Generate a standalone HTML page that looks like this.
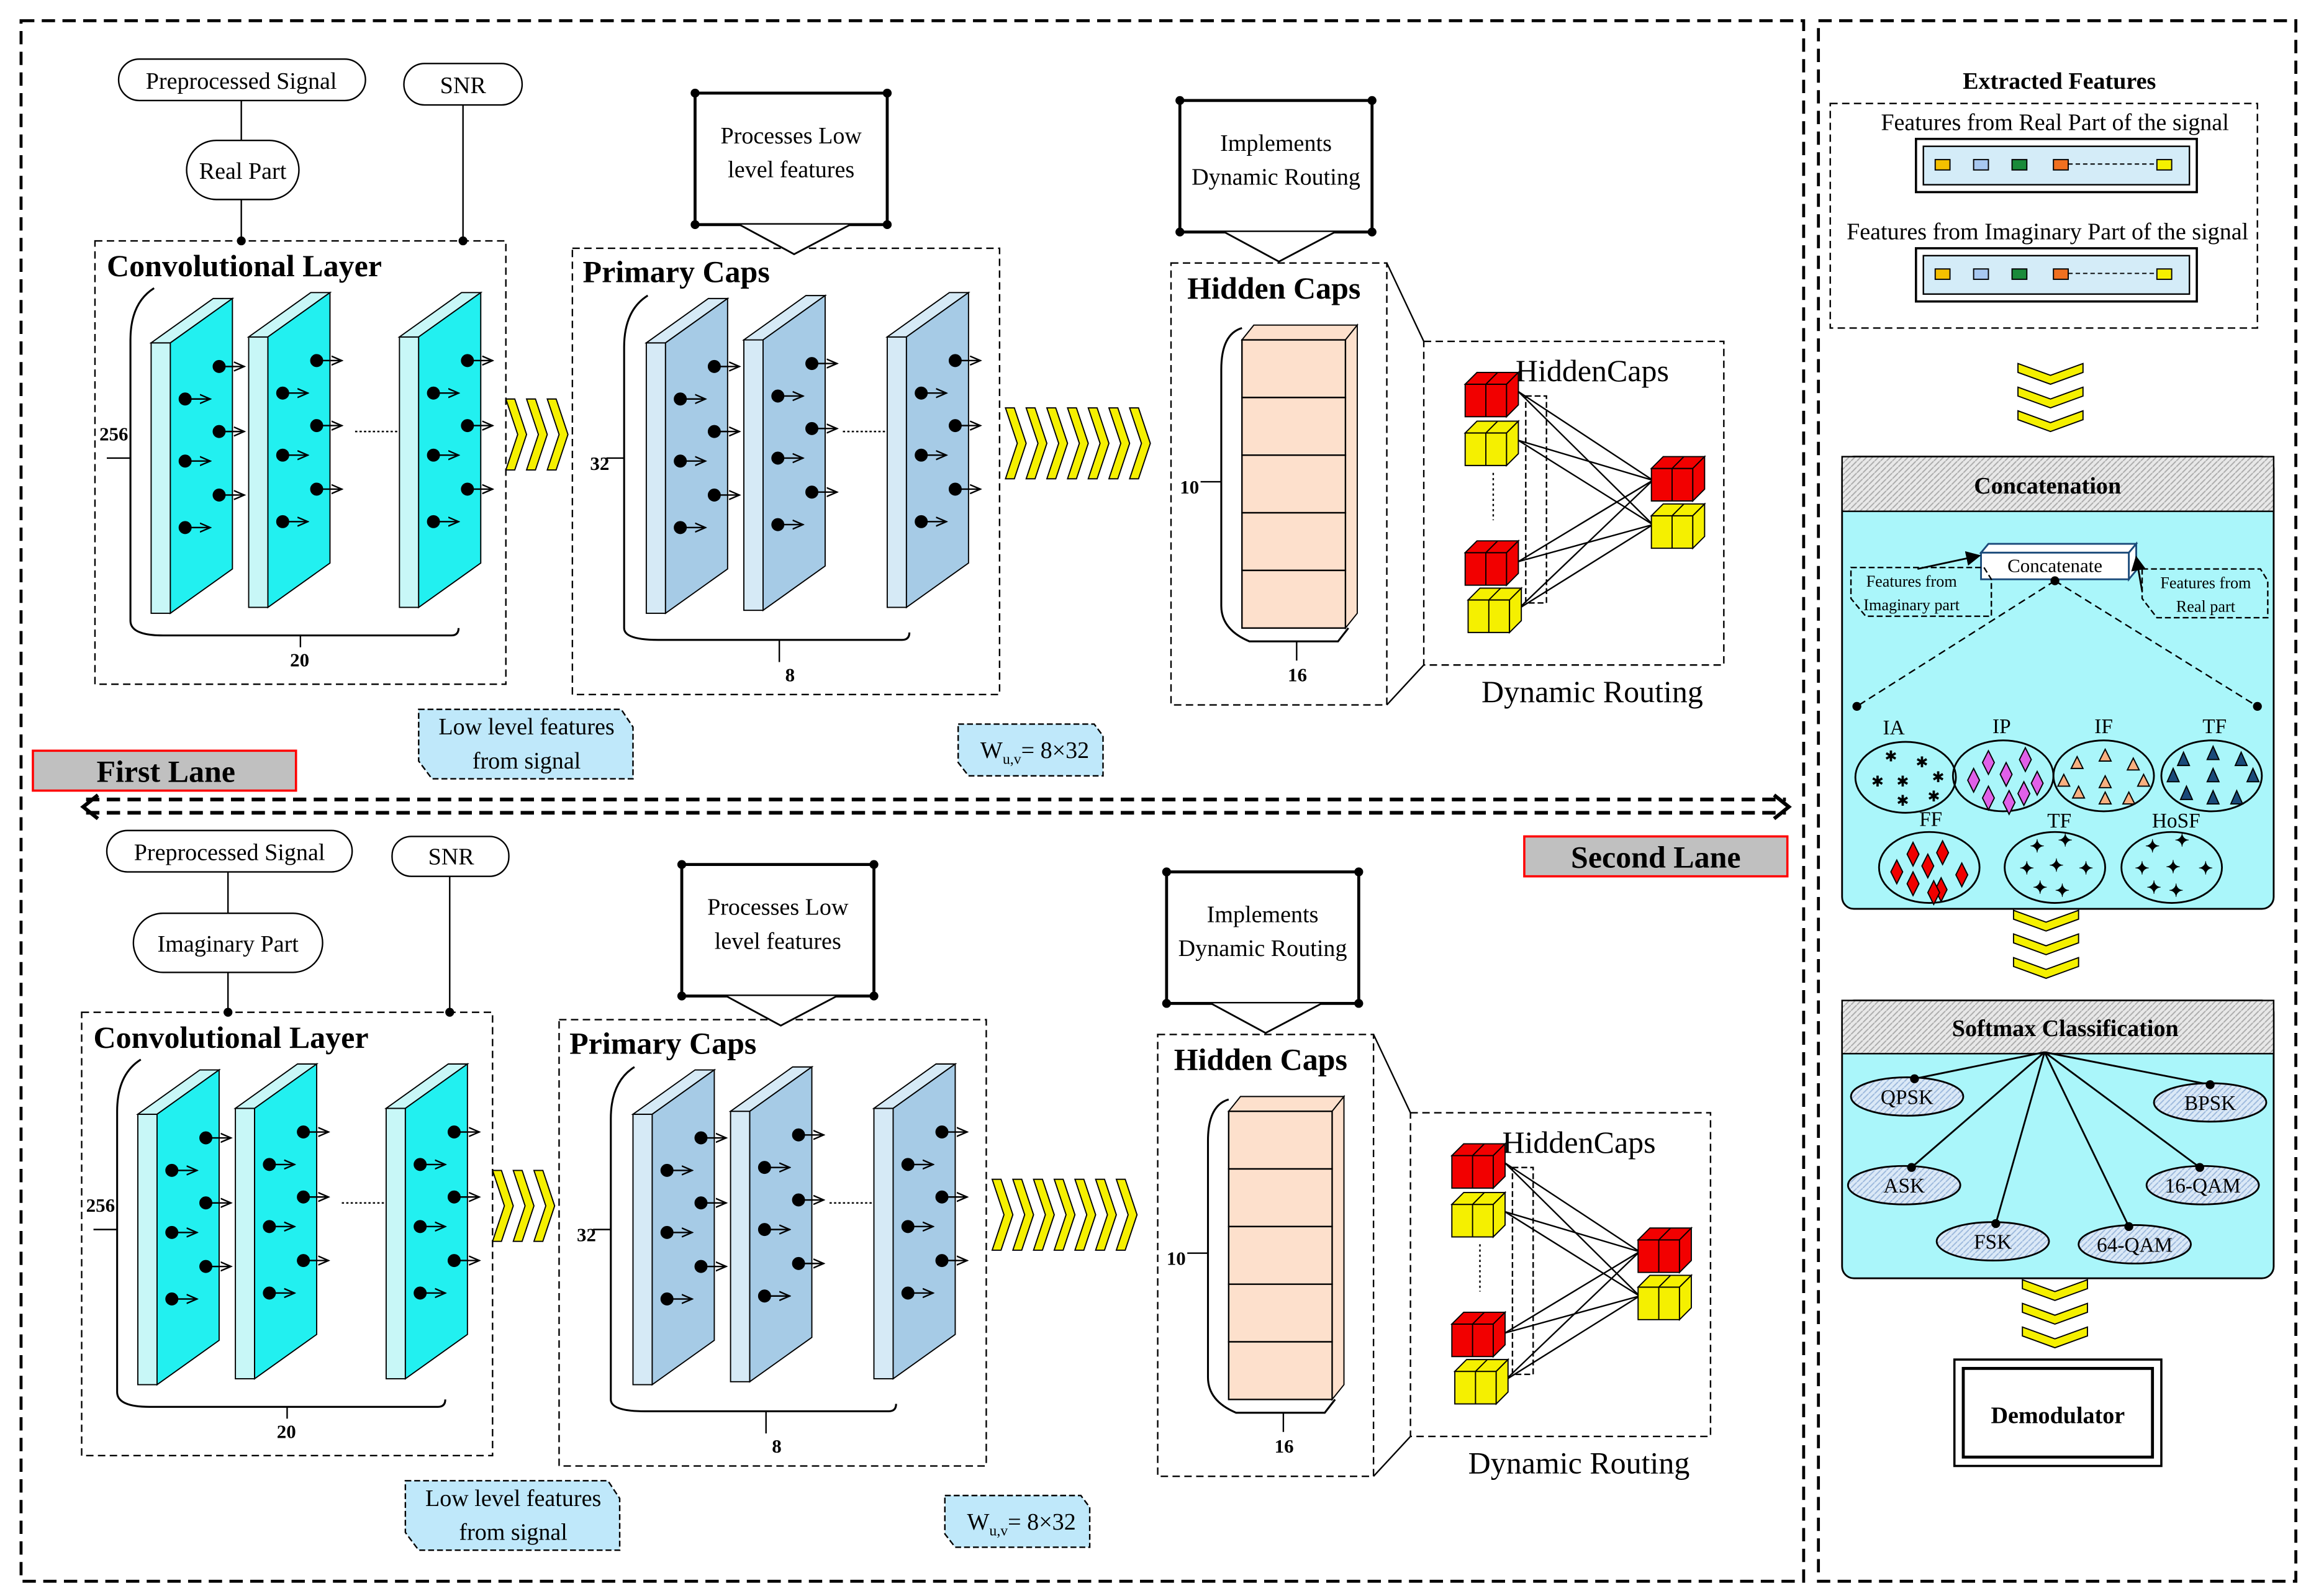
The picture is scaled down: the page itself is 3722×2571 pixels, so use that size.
<!DOCTYPE html>
<html><head><meta charset="utf-8"><style>
html,body{margin:0;padding:0;background:#fff}
svg{display:block}
text{font-family:"Liberation Serif",serif;fill:#000}
</style></head><body>
<svg width="3722" height="2571" viewBox="0 0 1563 1080" xmlns="http://www.w3.org/2000/svg">
<defs>
<marker id="ar" markerWidth="8" markerHeight="8" refX="7" refY="4" orient="auto" markerUnits="userSpaceOnUse"><path d="M0,1 L7,4 L0,7" fill="none" stroke="#000" stroke-width="1"/></marker>
<marker id="af" markerWidth="10" markerHeight="10" refX="9" refY="5" orient="auto" markerUnits="userSpaceOnUse"><path d="M0,0 L10,5 L0,10 z" fill="#000"/></marker>
<pattern id="hatch" width="4" height="4" patternUnits="userSpaceOnUse"><rect width="4" height="4" fill="#e8e8e8"/><path d="M0,4 L4,0" stroke="#aaa" stroke-width="0.8"/></pattern>
<pattern id="hb" width="4" height="4" patternUnits="userSpaceOnUse"><rect width="4" height="4" fill="#dbe9f7"/><path d="M0,4 L4,0" stroke="#9cb8dc" stroke-width="0.8"/></pattern>
<g id="dots">
 <g stroke="#000" stroke-width="1" marker-end="url(#ar)">
  <line x1="23" y1="68" x2="40" y2="68"/><line x1="46" y1="46" x2="63" y2="46"/><line x1="46" y1="90" x2="63" y2="90"/>
  <line x1="23" y1="110" x2="40" y2="110"/><line x1="46" y1="133" x2="63" y2="133"/><line x1="23" y1="155" x2="40" y2="155"/>
 </g>
 <g fill="#000"><circle cx="23" cy="68" r="4"/><circle cx="46" cy="46" r="4"/><circle cx="46" cy="90" r="4"/><circle cx="23" cy="110" r="4"/><circle cx="46" cy="133" r="4"/><circle cx="23" cy="155" r="4"/></g>
</g>
<g id="slabC" stroke="#000" stroke-width="0.8">
 <rect x="0" y="30" width="13" height="183" fill="#c8f7f7"/>
 <polygon points="0,30 42,0 55,0 13,30" fill="#c8f7f7"/>
 <polygon points="13,30 55,0 55,183 13,213" fill="#22f0f0"/>
 <use href="#dots"/>
</g>
<g id="slabB" stroke="#000" stroke-width="0.8">
 <rect x="0" y="30" width="13" height="183" fill="#d6eaf6"/>
 <polygon points="0,30 42,0 55,0 13,30" fill="#d6eaf6"/>
 <polygon points="13,30 55,0 55,183 13,213" fill="#a6cbe6"/>
 <use href="#dots"/>
</g>
<polygon id="chev" points="0,0 6,0 14,24 6,48 0,48 8,24" fill="#f5f000" stroke="#000" stroke-width="0.8"/>
<polygon id="chevD" points="0,0 0,6 22,14 44,6 44,0 22,8" fill="#f5f000" stroke="#000" stroke-width="0.8"/>
<g id="cubeR" stroke="#000" stroke-width="0.8">
 <polygon points="0,8 28,8 28,30 0,30" fill="#f20000"/>
 <polygon points="0,8 8,0 36,0 28,8" fill="#f20000"/>
 <polygon points="28,8 36,0 36,22 28,30" fill="#f20000"/>
 <line x1="14" y1="8" x2="14" y2="30"/><line x1="14" y1="8" x2="22" y2="0"/>
</g>
<g id="cubeY" stroke="#000" stroke-width="0.8">
 <polygon points="0,8 28,8 28,30 0,30" fill="#f5f000"/>
 <polygon points="0,8 8,0 36,0 28,8" fill="#f5f000"/>
 <polygon points="28,8 36,0 36,22 28,30" fill="#f5f000"/>
 <line x1="14" y1="8" x2="14" y2="30"/><line x1="14" y1="8" x2="22" y2="0"/>
</g>
<g id="callout">
 <rect x="0" y="0" width="130" height="89" fill="#fff" stroke="#000" stroke-width="2"/>
 <polyline points="30,89 67,109 105,89" fill="#fff" stroke="#000" stroke-width="1.2"/>
 <circle cx="0" cy="0" r="3"/><circle cx="130" cy="0" r="3"/><circle cx="0" cy="89" r="3"/><circle cx="130" cy="89" r="3"/>
</g>
<g id="lane">
 <rect x="64" y="163" width="278" height="300" fill="none" stroke="#000" stroke-dasharray="5,3"/>
 <text x="72" y="187" font-size="21" font-weight="bold">Convolutional  Layer</text>
 <path d="M104,195 Q88,205 88,230 L88,420 Q88,430 110,430 L305,430 Q310,430 310,425" fill="none" stroke="#000" stroke-width="1.3"/>
 <use href="#slabC" x="102" y="202"/><use href="#slabC" x="168" y="198"/><use href="#slabC" x="270" y="198"/>
 <line x1="240" y1="292" x2="270" y2="292" stroke="#000" stroke-dasharray="1.5,1.5"/>
 <text x="67" y="298" font-size="13" font-weight="bold">256</text><line x1="72" y1="310" x2="88" y2="310" stroke="#000"/>
 <text x="196" y="451" font-size="13" font-weight="bold">20</text><line x1="203" y1="430" x2="203" y2="438" stroke="#000"/>
 <use href="#chev" x="342" y="270"/><use href="#chev" x="356" y="270"/><use href="#chev" x="370" y="270"/>
 <rect x="387" y="168" width="289" height="302" fill="none" stroke="#000" stroke-dasharray="5,3"/>
 <text x="394" y="191" font-size="21" font-weight="bold">Primary Caps</text>
 <use href="#callout" x="470" y="63"/>
 <text x="535" y="97" font-size="16" text-anchor="middle">Processes Low</text>
 <text x="535" y="120" font-size="16" text-anchor="middle">level features</text>
 <path d="M438,200 Q422,210 422,235 L422,425 Q422,433 445,433 L610,433 Q615,433 615,428" fill="none" stroke="#000" stroke-width="1.3"/>
 <use href="#slabB" x="437" y="202"/><use href="#slabB" x="503" y="200"/><use href="#slabB" x="600" y="198"/>
 <line x1="570" y1="292" x2="600" y2="292" stroke="#000" stroke-dasharray="1.5,1.5"/>
 <text x="399" y="318" font-size="13" font-weight="bold">32</text><line x1="410" y1="310" x2="422" y2="310" stroke="#000"/>
 <text x="531" y="461" font-size="13" font-weight="bold">8</text><line x1="527" y1="433" x2="527" y2="448" stroke="#000"/>
 <use href="#chev" x="680" y="276"/><use href="#chev" x="694" y="276"/><use href="#chev" x="708" y="276"/><use href="#chev" x="722" y="276"/><use href="#chev" x="736" y="276"/><use href="#chev" x="750" y="276"/><use href="#chev" x="764" y="276"/>
 <rect x="792" y="178" width="146" height="299" fill="none" stroke="#000" stroke-dasharray="5,3"/>
 <text x="803" y="202" font-size="21" font-weight="bold">Hidden Caps</text>
 <use href="#callout" x="798" y="68"/>
 <text x="863" y="102" font-size="16" text-anchor="middle">Implements</text>
 <text x="863" y="125" font-size="16" text-anchor="middle">Dynamic Routing</text>
 <path d="M840,222 Q826,226 826,250 L826,410 Q826,426 845,434 L905,434 L912,425" fill="none" stroke="#000" stroke-width="1.3"/>
 <polygon points="840,230 848,220 918,220 910,230" fill="#fde0cc" stroke="#000" stroke-width="0.8"/>
 <polygon points="910,230 918,220 918,415 910,425" fill="#fde0cc" stroke="#000" stroke-width="0.8"/>
 <g fill="#fde0cc" stroke="#000" stroke-width="1"><rect x="840" y="230" width="70" height="39"/><rect x="840" y="269" width="70" height="39"/><rect x="840" y="308" width="70" height="39"/><rect x="840" y="347" width="70" height="39"/><rect x="840" y="386" width="70" height="39"/></g>
 <text x="798" y="334" font-size="13" font-weight="bold">10</text><line x1="812" y1="326" x2="826" y2="326" stroke="#000"/>
 <text x="871" y="461" font-size="13" font-weight="bold">16</text><line x1="877" y1="434" x2="877" y2="447" stroke="#000"/>
 <line x1="938" y1="178" x2="963" y2="231" stroke="#000"/><line x1="938" y1="477" x2="963" y2="450" stroke="#000"/>
 <rect x="963" y="231" width="203" height="219" fill="none" stroke="#000" stroke-dasharray="5,3"/>
 <text x="1077" y="258" font-size="21" text-anchor="middle">HiddenCaps</text>
 <text x="1077" y="475" font-size="21" text-anchor="middle">Dynamic Routing</text>
 <rect x="1032" y="268" width="14" height="140" fill="none" stroke="#000" stroke-dasharray="4,2"/>
 <line x1="1010" y1="320" x2="1010" y2="352" stroke="#000" stroke-dasharray="1.5,2"/>
 <g stroke="#000" stroke-width="1"><line x1="1027" y1="265" x2="1118" y2="325"/><line x1="1027" y1="265" x2="1118" y2="355"/><line x1="1027" y1="298" x2="1118" y2="325"/><line x1="1027" y1="298" x2="1118" y2="355"/><line x1="1027" y1="380" x2="1118" y2="325"/><line x1="1027" y1="380" x2="1118" y2="355"/><line x1="1027" y1="412" x2="1118" y2="325"/><line x1="1027" y1="412" x2="1118" y2="355"/></g>
 <use href="#cubeR" x="991" y="252"/><use href="#cubeY" x="991" y="285"/><use href="#cubeR" x="991" y="366"/><use href="#cubeY" x="993" y="398"/>
 <use href="#cubeR" x="1117" y="309"/><use href="#cubeY" x="1117" y="341"/>
 <path d="M283,480 L420,480 L428,492 L428,527 L292,527 L283,515 Z" fill="#bfe8fa" stroke="#000" stroke-dasharray="4,2"/>
 <text x="356" y="497" font-size="16" text-anchor="middle">Low level features</text>
 <text x="356" y="520" font-size="16" text-anchor="middle">from signal</text>
 <path d="M648,490 L740,490 L746,498 L746,525 L655,525 L648,516 Z" fill="#bfe8fa" stroke="#000" stroke-dasharray="4,2"/>
 <text x="663" y="513" font-size="16">W<tspan font-size="10" dy="4">u,v</tspan><tspan dy="-4">= 8×32</tspan></text>
</g>
</defs>
<rect width="1563" height="1080" fill="#fff"/>
<rect x="14" y="14" width="1206" height="1056" fill="none" stroke="#000" stroke-width="2" stroke-dasharray="9,5"/>
<rect x="1230" y="14" width="323" height="1056" fill="none" stroke="#000" stroke-width="2" stroke-dasharray="9,5"/>

<rect x="80" y="40" width="167" height="28" rx="14" fill="#fff" stroke="#000"/>
<text x="163" y="60" font-size="16" text-anchor="middle">Preprocessed Signal</text>
<rect x="273" y="43" width="80" height="28" rx="14" fill="#fff" stroke="#000"/>
<text x="313" y="63" font-size="16" text-anchor="middle">SNR</text>
<line x1="163" y1="68" x2="163" y2="95" stroke="#000"/>
<rect x="126" y="95" width="76" height="40" rx="20" fill="#fff" stroke="#000"/>
<text x="164" y="121" font-size="16" text-anchor="middle">Real Part</text>
<line x1="163" y1="135" x2="163" y2="163" stroke="#000"/><circle cx="163" cy="163" r="3"/>
<line x1="313" y1="71" x2="313" y2="163" stroke="#000"/><circle cx="313" cy="163" r="3"/>
<use href="#lane"/>

<rect x="72" y="562" width="166" height="28" rx="14" fill="#fff" stroke="#000"/>
<text x="155" y="582" font-size="16" text-anchor="middle">Preprocessed Signal</text>
<rect x="265" y="566" width="79" height="27" rx="13" fill="#fff" stroke="#000"/>
<text x="305" y="585" font-size="16" text-anchor="middle">SNR</text>
<line x1="154" y1="590" x2="154" y2="618" stroke="#000"/>
<rect x="90" y="618" width="128" height="40" rx="20" fill="#fff" stroke="#000"/>
<text x="154" y="644" font-size="16" text-anchor="middle">Imaginary Part</text>
<line x1="154" y1="658" x2="154" y2="685" stroke="#000"/><circle cx="154" cy="685" r="3"/>
<line x1="304" y1="593" x2="304" y2="685" stroke="#000"/><circle cx="304" cy="685" r="3"/>
<use href="#lane" transform="translate(-9,522)"/>

<rect x="22" y="508" width="178" height="27" fill="#c0c0c0" stroke="#f00" stroke-width="1.5"/>
<text x="112" y="529" font-size="21" font-weight="bold" text-anchor="middle">First Lane</text>
<rect x="1031" y="566" width="178" height="27" fill="#c0c0c0" stroke="#f00" stroke-width="1.5"/>
<text x="1120" y="587" font-size="21" font-weight="bold" text-anchor="middle">Second Lane</text>
<line x1="58" y1="541" x2="1208" y2="541" stroke="#000" stroke-width="2.5" stroke-dasharray="9,5"/>
<line x1="58" y1="550" x2="1208" y2="550" stroke="#000" stroke-width="2.5" stroke-dasharray="9,5"/>
<path d="M66,538 L56,546 L66,554 M1200,538 L1210,546 L1200,554" fill="none" stroke="#000" stroke-width="2.5"/>

<text x="1393" y="60" font-size="16" font-weight="bold" text-anchor="middle">Extracted Features</text>
<rect x="1238" y="70" width="289" height="152" fill="none" stroke="#000" stroke-dasharray="5,3"/>
<text x="1390" y="88" font-size="16" text-anchor="middle">Features from Real Part of the signal</text>
<rect x="1296" y="94" width="190" height="36" fill="none" stroke="#000" stroke-width="1.5"/>
<rect x="1301" y="99" width="180" height="26" fill="#d4ecf8" stroke="#000"/>
<text x="1385" y="162" font-size="16" text-anchor="middle">Features from Imaginary Part of the signal</text>
<rect x="1296" y="168" width="190" height="36" fill="none" stroke="#000" stroke-width="1.5"/>
<rect x="1301" y="173" width="180" height="26" fill="#d4ecf8" stroke="#000"/>
<g stroke="#000" stroke-width="0.8">
 <rect x="1309" y="108" width="10" height="7" fill="#f5c000"/><rect x="1335" y="108" width="10" height="7" fill="#a8c8f0"/><rect x="1361" y="108" width="10" height="7" fill="#1a8a3a"/><rect x="1389" y="108" width="10" height="7" fill="#f07020"/><rect x="1459" y="108" width="10" height="7" fill="#f5f000"/>
 <line x1="1399" y1="111" x2="1459" y2="111" stroke-dasharray="3,2"/>
 <rect x="1309" y="182" width="10" height="7" fill="#f5c000"/><rect x="1335" y="182" width="10" height="7" fill="#a8c8f0"/><rect x="1361" y="182" width="10" height="7" fill="#1a8a3a"/><rect x="1389" y="182" width="10" height="7" fill="#f07020"/><rect x="1459" y="182" width="10" height="7" fill="#f5f000"/>
 <line x1="1399" y1="185" x2="1459" y2="185" stroke-dasharray="3,2"/>
</g>
<use href="#chevD" x="1365" y="246"/><use href="#chevD" x="1365" y="262"/><use href="#chevD" x="1365" y="278"/>

<rect x="1246" y="309" width="292" height="306" rx="8" fill="#aaf6fa" stroke="#000" stroke-width="1.2"/>
<rect x="1246" y="309" width="292" height="37" fill="url(#hatch)" stroke="#000"/>
<text x="1385" y="334" font-size="16" font-weight="bold" text-anchor="middle">Concatenation</text>
<polygon points="1340,374 1345,368 1445,368 1440,374" fill="#fff" stroke="#1a4a7a" stroke-width="1.2"/>
<polygon points="1440,374 1445,368 1445,386 1440,392" fill="#fff" stroke="#1a4a7a" stroke-width="1.2"/>
<rect x="1340" y="374" width="100" height="18" fill="#fff" stroke="#1a4a7a" stroke-width="1.2"/>
<text x="1390" y="387" font-size="13" text-anchor="middle">Concatenate</text>
<path d="M1252,384 L1342,384 L1347,392 L1347,417 L1262,417 L1252,405 Z" fill="none" stroke="#000" stroke-dasharray="4,2"/>
<text x="1293" y="397" font-size="11" text-anchor="middle">Features from</text>
<text x="1293" y="413" font-size="11" text-anchor="middle">Imaginary part</text>
<path d="M1449,385 L1529,385 L1534,393 L1534,418 L1459,418 L1449,405 Z" fill="none" stroke="#000" stroke-dasharray="4,2"/>
<text x="1492" y="398" font-size="11" text-anchor="middle">Features from</text>
<text x="1492" y="414" font-size="11" text-anchor="middle">Real part</text>
<path d="M1297,385 L1339,376" stroke="#000" stroke-width="1.2" marker-end="url(#af)" fill="none"/>
<path d="M1449,400 L1445,377" stroke="#000" stroke-width="1.2" marker-end="url(#af)" fill="none"/>
<circle cx="1390" cy="393" r="3"/>
<line x1="1390" y1="393" x2="1256" y2="478" stroke="#000" stroke-dasharray="5,3"/><circle cx="1256" cy="478" r="3"/>
<line x1="1390" y1="393" x2="1527" y2="478" stroke="#000" stroke-dasharray="5,3"/><circle cx="1527" cy="478" r="3"/>
<g fill="none" stroke="#000" stroke-width="1.2">
 <ellipse cx="1289" cy="526" rx="34" ry="24"/><ellipse cx="1355" cy="525" rx="34" ry="24"/><ellipse cx="1423" cy="525" rx="34" ry="24"/><ellipse cx="1496" cy="525" rx="34" ry="24"/>
 <ellipse cx="1305" cy="587" rx="34" ry="24"/><ellipse cx="1390" cy="587" rx="34" ry="24"/><ellipse cx="1469" cy="587" rx="34" ry="24"/>
</g>
<g font-size="14" text-anchor="middle"><text x="1281" y="497">IA</text><text x="1354" y="496">IP</text><text x="1423" y="496">IF</text><text x="1498" y="496">TF</text><text x="1306" y="559">FF</text><text x="1393" y="560">TF</text><text x="1472" y="560">HoSF</text></g>
<g font-size="10" text-anchor="middle" dominant-baseline="middle">
 <text x="1279" y="513">✱</text><text x="1300" y="517">✱</text><text x="1270" y="530">✱</text><text x="1287" y="530">✱</text><text x="1311" y="527">✱</text><text x="1287" y="543">✱</text><text x="1308" y="540">✱</text>
</g>
<g fill="#e060e8" stroke="#000" stroke-width="0.8">
 <polygon points="1345,508 1349,516 1345,524 1341,516"/><polygon points="1370,506 1374,514 1370,522 1366,514"/><polygon points="1335,520 1339,528 1335,536 1331,528"/><polygon points="1357,516 1361,524 1357,532 1353,524"/><polygon points="1378,522 1382,530 1378,538 1374,530"/><polygon points="1345,532 1349,540 1345,548 1341,540"/><polygon points="1359,535 1363,543 1359,551 1355,543"/><polygon points="1369,529 1373,537 1369,545 1365,537"/>
</g>
<g fill="#f8b080" stroke="#000" stroke-width="0.8">
 <polygon points="1424,507 1428,515 1420,515"/><polygon points="1405,512 1409,520 1401,520"/><polygon points="1443,513 1447,521 1439,521"/><polygon points="1396,524 1400,532 1392,532"/><polygon points="1424,525 1428,533 1420,533"/><polygon points="1450,524 1454,532 1446,532"/><polygon points="1406,532 1410,540 1402,540"/><polygon points="1424,536 1428,544 1420,544"/><polygon points="1440,536 1444,544 1436,544"/>
</g>
<g fill="#1a4a7a" stroke="#000" stroke-width="0.8">
 <polygon points="1497,505 1501,514 1493,514"/><polygon points="1477,509 1481,518 1473,518"/><polygon points="1516,509 1520,518 1512,518"/><polygon points="1470,520 1474,529 1466,529"/><polygon points="1497,520 1501,529 1493,529"/><polygon points="1524,520 1528,529 1520,529"/><polygon points="1479,532 1483,541 1475,541"/><polygon points="1497,535 1501,544 1493,544"/><polygon points="1513,535 1517,544 1509,544"/>
</g>
<g fill="#f00000" stroke="#000" stroke-width="0.8">
 <polygon points="1294,570 1298,578 1294,586 1290,578"/><polygon points="1314,569 1318,577 1314,585 1310,577"/><polygon points="1283,582 1287,590 1283,598 1279,590"/><polygon points="1304,578 1308,586 1304,594 1300,586"/><polygon points="1327,584 1331,592 1327,600 1323,592"/><polygon points="1294,590 1298,598 1294,606 1290,598"/><polygon points="1313,594 1317,602 1313,610 1309,602"/><polygon points="1308,596 1312,604 1308,612 1304,604"/>
</g>
<g font-size="12" text-anchor="middle" dominant-baseline="middle" font-weight="bold">
 <text x="1378" y="574">✦</text><text x="1397" y="570">✦</text><text x="1371" y="589">✦</text><text x="1391" y="587">✦</text><text x="1411" y="589">✦</text><text x="1380" y="602">✦</text><text x="1395" y="604">✦</text>
 <text x="1456" y="574">✦</text><text x="1476" y="570">✦</text><text x="1449" y="589">✦</text><text x="1470" y="588">✦</text><text x="1492" y="589">✦</text><text x="1457" y="602">✦</text><text x="1472" y="604">✦</text>
</g>
<use href="#chevD" x="1362" y="616"/><use href="#chevD" x="1362" y="632"/><use href="#chevD" x="1362" y="648"/>

<rect x="1246" y="677" width="292" height="188" rx="8" fill="#aaf6fa" stroke="#000" stroke-width="1.2"/>
<rect x="1246" y="677" width="292" height="36" fill="url(#hatch)" stroke="#000"/>
<text x="1397" y="701" font-size="16" font-weight="bold" text-anchor="middle">Softmax Classification</text>
<g stroke="#000" stroke-width="1.2">
 <line x1="1383" y1="712" x2="1295" y2="730"/><line x1="1383" y1="712" x2="1495" y2="734"/><line x1="1383" y1="712" x2="1293" y2="790"/><line x1="1383" y1="712" x2="1488" y2="790"/><line x1="1383" y1="712" x2="1350" y2="828"/><line x1="1383" y1="712" x2="1440" y2="830"/>
</g>
<g fill="url(#hb)" stroke="#000" stroke-width="1.2">
 <ellipse cx="1290" cy="742" rx="38" ry="13"/><ellipse cx="1495" cy="746" rx="38" ry="13"/><ellipse cx="1288" cy="802" rx="38" ry="13"/><ellipse cx="1490" cy="802" rx="38" ry="13"/><ellipse cx="1348" cy="840" rx="38" ry="13"/><ellipse cx="1444" cy="842" rx="38" ry="13"/>
</g>
<g fill="#000"><circle cx="1295" cy="730" r="3"/><circle cx="1495" cy="734" r="3"/><circle cx="1293" cy="790" r="3"/><circle cx="1488" cy="790" r="3"/><circle cx="1350" cy="828" r="3"/><circle cx="1440" cy="830" r="3"/></g>
<g font-size="14" text-anchor="middle"><text x="1290" y="747">QPSK</text><text x="1495" y="751">BPSK</text><text x="1288" y="807">ASK</text><text x="1490" y="807">16-QAM</text><text x="1348" y="845">FSK</text><text x="1444" y="847">64-QAM</text></g>
<use href="#chevD" x="1368" y="866"/><use href="#chevD" x="1368" y="882"/><use href="#chevD" x="1368" y="898"/>
<rect x="1322" y="920" width="140" height="72" fill="#fff" stroke="#000" stroke-width="1.5"/>
<rect x="1328" y="926" width="128" height="60" fill="#fff" stroke="#000" stroke-width="2"/>
<text x="1392" y="963" font-size="16" font-weight="bold" text-anchor="middle">Demodulator</text>
</svg>
</body></html>
